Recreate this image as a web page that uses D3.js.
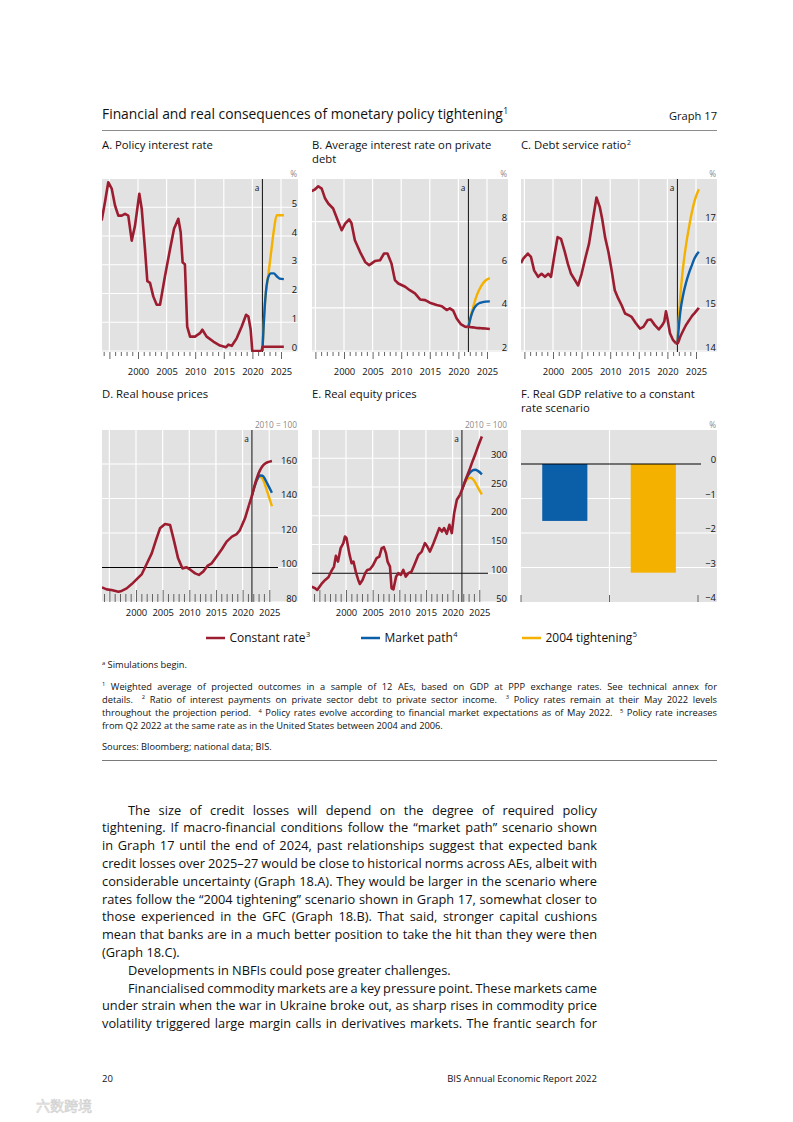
<!DOCTYPE html>
<html lang="en"><head><meta charset="utf-8"><title>Graph 17</title>
<script src="https://cdn.jsdelivr.net/npm/d3@7/dist/d3.min.js"></script>
<style>
html,body{margin:0;padding:0;background:#fff;}
svg{display:block;}
text{font-family:"Open Sans","Noto Sans",sans-serif;}
</style></head>
<body>
<svg id="page" width="793" height="1122" viewBox="0 0 793 1122"></svg>
<script>
// ================= DATA =================
const projYears = [2021.75, 2022.25, 2022.75, 2023.25, 2023.75, 2024.25, 2024.75, 2025.5];
const simStart = 2021.75;

// A. Policy interest rate (%)
const policyRateHist = [[1993.65,4.54],[1994.23,5.18],[1994.8,5.87],[1995.4,5.65],[1995.98,5.06],[1996.56,4.71],[1997.15,4.71],[1997.73,4.77],[1998.3,4.71],[1998.9,3.84],[1999.48,4.36],[2000.23,5.47],[2000.65,4.95],[2001.22,3.54],[2001.63,2.43],[2002.1,2.37],[2002.67,1.9],[2003.27,1.61],[2003.85,1.61],[2004.72,2.61],[2005.6,3.54],[2006.3,4.25],[2007.05,4.6],[2007.46,4.13],[2007.8,3.08],[2008.2,3.02],[2008.6,0.85],[2009.1,0.5],[2009.97,0.5],[2010.84,0.62],[2011.25,0.74],[2012.0,0.5],[2013.17,0.33],[2014.34,0.19],[2015.4,0.13],[2015.8,0.22],[2016.4,0.18],[2017.25,0.44],[2018.13,0.85],[2018.9,1.26],[2019.3,1.2],[2019.7,0.74],[2019.98,0.0],[2020.75,0.0],[2021.63,0.0]];
const policyRateConst  = [0.15, 0.15, 0.15, 0.15, 0.15, 0.15, 0.15, 0.15];
const policyRateMarket = [0, 1.8, 2.55, 2.7, 2.7, 2.6, 2.52, 2.5];
const policyRate2004   = [0, 1.8, 2.6, 3.4, 4.2, 4.72, 4.72, 4.72];

// B. Average interest rate on private debt (%)
const debtRateHist = [[1994.35,9.42],[1994.9,9.49],[1995.5,9.64],[1996.1,9.53],[1996.7,9.07],[1997.25,8.84],[1998.1,8.61],[1999.0,7.99],[1999.6,7.6],[2000.2,7.91],[2000.9,8.1],[2001.3,7.94],[2001.9,7.14],[2002.8,6.6],[2003.7,6.13],[2004.4,5.98],[2005.4,6.17],[2006.3,6.21],[2007.0,6.52],[2007.6,6.52],[2008.3,6.06],[2008.9,5.29],[2009.5,5.13],[2010.7,4.98],[2011.5,4.82],[2012.4,4.67],[2013.3,4.39],[2014.2,4.36],[2015.0,4.24],[2016.2,4.13],[2017.1,4.08],[2017.95,3.9],[2018.5,3.98],[2019.1,3.87],[2019.7,3.51],[2020.4,3.25],[2021.15,3.13],[2021.55,3.12]];
const debtRateConst  = [3.12, 3.10, 3.09, 3.07, 3.06, 3.05, 3.04, 3.02];
const debtRateMarket = [3.12, 3.65, 3.98, 4.15, 4.23, 4.27, 4.29, 4.30];
const debtRate2004   = [3.12, 3.70, 4.20, 4.60, 4.90, 5.12, 5.27, 5.38];

// C. Debt service ratio (%)
const dsrHist = [[1994.4,16.04],[1994.8,16.14],[1995.6,16.26],[1996.15,16.18],[1996.7,15.87],[1997.4,15.72],[1998.0,15.79],[1998.6,15.72],[1999.2,15.79],[1999.65,15.72],[2000.2,16.18],[2000.8,16.64],[2001.4,16.6],[2002.0,16.33],[2002.6,16.02],[2003.15,15.79],[2003.85,15.64],[2004.4,15.52],[2005.0,15.79],[2005.7,16.18],[2006.3,16.49],[2006.9,16.99],[2007.6,17.56],[2008.2,17.33],[2008.6,17.06],[2009.1,16.64],[2009.7,16.29],[2010.25,15.87],[2010.8,15.41],[2011.4,15.22],[2012.0,15.06],[2012.6,14.87],[2013.2,14.83],[2013.75,14.79],[2014.45,14.65],[2015.2,14.52],[2015.8,14.56],[2016.55,14.72],[2017.1,14.73],[2017.8,14.6],[2018.5,14.5],[2019.1,14.6],[2019.45,14.68],[2019.75,14.92],[2020.05,14.72],[2020.45,14.41],[2021.0,14.25],[2021.5,14.18]];
const dsrConst  = [14.17, 14.33, 14.47, 14.60, 14.70, 14.80, 14.88, 15.00];
const dsrMarket = [14.17, 14.90, 15.30, 15.58, 15.80, 15.98, 16.15, 16.30];
const dsr2004   = [14.17, 15.25, 15.95, 16.45, 16.85, 17.20, 17.48, 17.75];

// D. Real house prices (2010 = 100)
const houseHist = [[1993.6,88.5],[1994.5,87.3],[1995.4,87.0],[1996.7,86.0],[1997.3,86.4],[1998.25,87.9],[1999.2,90.4],[2000.1,93.1],[2001.1,96.2],[2002.0,102.0],[2002.95,108.2],[2003.75,115.9],[2004.5,122.7],[2005.45,125.2],[2006.4,124.6],[2007.1,115.9],[2007.9,105.3],[2008.7,99.5],[2009.5,100.1],[2010.25,98.6],[2011.1,96.6],[2011.8,95.7],[2012.6,97.6],[2013.4,100.9],[2014.2,102.4],[2015.1,106.3],[2016.1,110.6],[2017.0,115.0],[2018.0,117.9],[2018.9,119.4],[2019.5,121.7],[2020.45,128.5],[2021.2,136.2]];
const houseConst  = [141.7, 147.5, 152.5, 156.3, 158.8, 160.3, 161.1, 161.8];
const houseMarket = [141.7, 147.0, 151.2, 153.3, 153.2, 151.0, 147.9, 143.3];
const house2004   = [141.7, 147.0, 151.0, 152.6, 151.4, 147.5, 142.8, 135.5];

// E. Real equity prices (2010 = 100)
const equityHist = [[1993.56,76.7],[1994.2,73.9],[1994.6,70.9],[1995.4,81.4],[1996.1,88.4],[1996.7,93.1],[1997.3,104.6],[1997.75,111.6],[1998.1,130.2],[1998.5,120.3],[1999.0,143.7],[1999.5,152.4],[1999.8,163.9],[2000.1,161.1],[2000.6,135],[2001.05,117.5],[2001.4,120.3],[2001.9,100.1],[2002.3,88.4],[2002.6,81.4],[2003.1,88.4],[2003.6,100.1],[2004.0,105.8],[2004.5,107],[2005.1,114.5],[2005.75,126.2],[2006.25,129],[2006.7,143.7],[2007.1,145.4],[2007.5,135],[2007.8,120.3],[2008.25,111.6],[2008.55,73.9],[2008.9,72.1],[2009.4,94.1],[2009.8,100.1],[2010.3,97.1],[2010.75,105.8],[2011.2,94.1],[2011.7,100.1],[2012.3,102.9],[2012.95,117.5],[2013.6,132],[2014.2,137.7],[2014.8,152.4],[2015.25,146.5],[2015.75,137.7],[2016.3,149.4],[2016.9,163.9],[2017.5,178.5],[2018.0,172.6],[2018.4,178.5],[2018.9,168.6],[2019.4,184.3],[2019.85,169.8],[2020.3,204.7],[2020.8,227.9],[2021.4,236.6]];
const equityConst  = [245, 257.5, 270, 282, 295, 307, 320, 338];
const equityMarket = [245, 258, 268, 275, 279, 280, 278, 272];
const equity2004   = [245, 256, 263, 266, 264, 258, 249, 237];

// F. Real GDP relative to a constant rate scenario (%)
const gdpScenarios = ['Market path', '2004 tightening'];
const gdpDeviation = [-1.65, -3.15];

// Axis ticks
const ticksA = [0, 1, 2, 3, 4, 5];
const ticksB = [2, 4, 6, 8];
const ticksC = [14, 15, 16, 17];
const ticksD = [80, 100, 120, 140, 160];
const ticksE = [50, 100, 150, 200, 250, 300];
const ticksF = [0, -1, -2, -3, -4];
const yearTicks = d3.range(1994, 2026);
const majorYears = [1995, 2000, 2005, 2010, 2015, 2020, 2025];
const labelledYears = [2000, 2005, 2010, 2015, 2020, 2025];
const legendNames = ['Constant rate', 'Market path', '2004 tightening'];

// ================= STYLE =================
const BG = '#e2e2e2', RED = '#9c1c30', BLUE = '#0b5ea8', YELLOW = '#f5b100';
const GREY_TXT = '#8a8a8a', TICK = '#555';
const FONT = '"Open Sans","Noto Sans",sans-serif';
const intFmt = d3.format('d');
const svg = d3.select('#page');
svg.append('rect').attr('width', 793).attr('height', 1122).attr('fill', '#fff');

function measure(str, size) {
  const t = svg.append('text').attr('font-size', size).style('font-family', FONT).text(str);
  const w = t.node().getComputedTextLength(); t.remove(); return w;
}
function fit(str, target) { return 100 * target / measure(str, 100); }

const sTitle = fit('Financial and real consequences of monetary policy tightening', 401);
const sGraph = fit('Graph 17', 48);
const sPanel = fit('A. Policy interest rate', 111);
const sTick = fit('2000', 21.5);
const sUnit = sTick * 0.88;
const sLegend = fit('Constant rate', 76);
const sNote = fit('Sources: Bloomberg; national data; BIS.', 170);
const sBody = fit('Developments in NBFIs could pose greater challenges.', 323);
const sFooter = fit('BIS Annual Economic Report 2022', 150);

function rich(parent, x, y, parts, size, opts = {}) {
  const t = parent.append('text').attr('x', x).attr('y', y).attr('font-size', size)
    .attr('text-anchor', opts.anchor || 'start').attr('fill', opts.fill || '#111');
  let shift = 0;
  parts.forEach(p => {
    if (typeof p === 'string') {
      const ts = t.append('tspan').text(p);
      if (shift) { ts.attr('dy', shift); shift = 0; }
    } else {
      const up = size * 0.36;
      t.append('tspan').attr('font-size', size * 0.62).attr('dy', -up).attr('dx', p.dx || 0).text(p.sup);
      shift = up;
    }
  });
  return t;
}
function justify(t, width) {
  const node = t.node();
  const w0 = node.getComputedTextLength();
  const n = (node.textContent.match(/ /g) || []).length;
  if (!n) return;
  const ws = (width - w0) / n;
  t.style('word-spacing', ws.toFixed(3) + 'px');
  const w1 = node.getComputedTextLength();
  if (Math.abs(w1 - w0) < 0.3 && Math.abs(width - w0) > 1) {
    t.style('word-spacing', null).attr('textLength', width).attr('lengthAdjust', 'spacing');
  }
}

// ================= HEADER =================
rich(svg, 102, 119, ['Financial and real consequences of monetary policy tightening', {sup: '1', dx: 0.5}], sTitle);
rich(svg, 717, 120, ['Graph 17'], sGraph, {anchor: 'end'});
svg.append('line').attr('x1', 102).attr('x2', 717).attr('y1', 130.5).attr('y2', 130.5).attr('stroke', '#8c8c8c').attr('stroke-width', 1);

// ================= LINE PANELS =================
const linePanels = [
  {key: 'A', title: [['A. Policy interest rate']], L: 102, top: 179, bottom: 352, yTop: 178.5, yBot: 351, x2000: 36, ppy: 5.72, domain: [0, 6], ticks: ticksA, unit: '%', inside: false,
   hist: policyRateHist, cons: policyRateConst, mkt: policyRateMarket, t04: policyRate2004},
  {key: 'B', title: [['B. Average interest rate on private'], ['debt']], L: 312, top: 179, bottom: 352, yTop: 178.5, yBot: 351, x2000: 32, ppy: 5.72, domain: [2, 10], ticks: ticksB, unit: '%', inside: false,
   hist: debtRateHist, cons: debtRateConst, mkt: debtRateMarket, t04: debtRate2004},
  {key: 'C', title: [['C. Debt service ratio', {sup: '2', dx: 0.5}]], L: 521, top: 179, bottom: 352, yTop: 178.5, yBot: 351, x2000: 32, ppy: 5.72, domain: [14, 18], ticks: ticksC, unit: '%', inside: false,
   hist: dsrHist, cons: dsrConst, mkt: dsrMarket, t04: dsr2004},
  {key: 'D', title: [['D. Real house prices']], L: 102, top: 430, bottom: 602, yTop: 429.5, yBot: 602, x2000: 34, ppy: 5.33, domain: [80, 180], ticks: ticksD, unit: '2010 = 100', inside: true, ref: 100,
   hist: houseHist, cons: houseConst, mkt: houseMarket, t04: house2004},
  {key: 'E', title: [['E. Real equity prices']], L: 312, top: 430, bottom: 602, yTop: 429.5, yBot: 602, x2000: 34, ppy: 5.33, domain: [50, 350], ticks: ticksE, unit: '2010 = 100', inside: true, ref: 100,
   hist: equityHist, cons: equityConst, mkt: equityMarket, t04: equity2004}
];
const PW = 196;

linePanels.forEach(cfg => {
  const g = svg.append('g');
  const L = cfg.L, R = L + PW;
  const x = d3.scaleLinear().domain([2000, 2025]).range([L + cfg.x2000, L + cfg.x2000 + 25 * cfg.ppy]);
  const y = d3.scaleLinear().domain(cfg.domain).range([cfg.yBot, cfg.yTop]);
  const inX = v => x(v) >= L - 0.01 && x(v) <= R - 8;

  const titleBase = cfg.top < 300 ? 149 : 397.5;
  cfg.title.forEach((parts, i) => rich(svg, L, titleBase + i * 14, parts, sPanel));
  g.append('text').attr('x', R - 1).attr('y', cfg.top - 2.5).attr('text-anchor', 'end')
    .attr('font-size', sUnit).attr('fill', GREY_TXT).text(cfg.unit);

  g.append('rect').attr('x', L).attr('y', cfg.top).attr('width', PW).attr('height', cfg.bottom - cfg.top).attr('fill', BG);

  g.selectAll('line.vg').data(majorYears.filter(inX)).join('line').attr('class', 'vg')
    .attr('x1', d => x(d)).attr('x2', d => x(d)).attr('y1', cfg.top).attr('y2', cfg.bottom)
    .attr('stroke', '#fff').attr('stroke-width', 1.2);
  g.selectAll('line.hg').data(cfg.ticks.concat([cfg.domain[1]])).join('line').attr('class', 'hg')
    .attr('x1', L).attr('x2', R).attr('y1', d => y(d)).attr('y2', d => y(d))
    .attr('stroke', '#fff').attr('stroke-width', 1.2);
  if (cfg.ref !== undefined) {
    g.append('line').attr('x1', L).attr('x2', L + 176).attr('y1', y(cfg.ref)).attr('y2', y(cfg.ref))
      .attr('stroke', '#000').attr('stroke-width', 1);
  }

  const minor = yearTicks.filter(v => inX(v) && !majorYears.includes(v));
  const major = majorYears.filter(inX);
  const minorAxis = d3.axisBottom(x).tickValues(minor).tickFormat('').tickSize(cfg.inside ? -8 : 4);
  const majorAxis = d3.axisBottom(x).tickValues(major).tickFormat(d => labelledYears.includes(d) ? d : '')
    .tickSize(cfg.inside ? -12 : 7).tickPadding(cfg.inside ? 7 : 9.5);
  [minorAxis, majorAxis].forEach(ax => {
    const a = g.append('g').attr('transform', `translate(0,${cfg.bottom})`).call(ax);
    a.select('.domain').remove();
    a.selectAll('line').attr('stroke', TICK).attr('stroke-width', 0.9);
    a.selectAll('text').attr('font-size', sTick).attr('fill', '#111').style('font-family', FONT);
  });

  const ya = g.append('g').attr('transform', `translate(${R - 1},0)`)
    .call(d3.axisLeft(y).tickValues(cfg.ticks).tickFormat(intFmt).tickSize(0).tickPadding(0));
  ya.select('.domain').remove();
  ya.selectAll('text').attr('font-size', sTick).attr('fill', '#111').attr('dy', -1).style('font-family', FONT);

  const ax = x(simStart);
  g.append('line').attr('x1', ax).attr('x2', ax).attr('y1', cfg.top).attr('y2', cfg.bottom).attr('stroke', '#111').attr('stroke-width', 1);
  g.append('text').attr('x', ax - 3).attr('y', cfg.top + 12).attr('text-anchor', 'end').attr('font-size', sUnit).attr('fill', '#111').text('a');

  const clipId = 'clip' + cfg.key;
  svg.append('clipPath').attr('id', clipId).append('rect').attr('x', L).attr('y', cfg.top - 2).attr('width', PW).attr('height', cfg.bottom - cfg.top + 2);
  const lineG = g.append('g').attr('clip-path', `url(#${clipId})`);
  const straight = d3.line().x(d => x(d[0])).y(d => y(d[1]));
  const smooth = d3.line().x(d => x(d[0])).y(d => y(d[1])).curve(d3.curveMonotoneX);
  const proj = vals => projYears.map((yr, i) => [yr, vals[i]]);
  lineG.append('path').attr('d', smooth(proj(cfg.t04))).attr('fill', 'none').attr('stroke', YELLOW).attr('stroke-width', 2.4).attr('stroke-linejoin', 'round');
  lineG.append('path').attr('d', smooth(proj(cfg.mkt))).attr('fill', 'none').attr('stroke', BLUE).attr('stroke-width', 2.4).attr('stroke-linejoin', 'round');
  lineG.append('path').attr('d', straight(cfg.hist)).attr('fill', 'none').attr('stroke', RED).attr('stroke-width', 2.6).attr('stroke-linejoin', 'round');
  lineG.append('path').attr('d', smooth([cfg.hist[cfg.hist.length - 1]].concat(proj(cfg.cons)))).attr('fill', 'none').attr('stroke', RED).attr('stroke-width', 2.6).attr('stroke-linejoin', 'round');
});

// ================= PANEL F (bars) =================
(function () {
  const L = 521, R = L + PW, top = 430, bottom = 602;
  const g = svg.append('g');
  rich(svg, L, 397.5, ['F. Real GDP relative to a constant'], sPanel);
  rich(svg, L, 411.5, ['rate scenario'], sPanel);
  g.append('text').attr('x', R - 1).attr('y', top - 2.5).attr('text-anchor', 'end').attr('font-size', sUnit).attr('fill', GREY_TXT).text('%');
  g.append('rect').attr('x', L).attr('y', top).attr('width', PW).attr('height', bottom - top).attr('fill', BG);
  const x = d3.scaleBand().domain(gdpScenarios).range([L, L + 177]).padding(0);
  const y = d3.scaleLinear().domain([-4, 1]).range([bottom, 429.5]);
  const bw = x.bandwidth();
  g.append('line').attr('x1', x(gdpScenarios[1])).attr('x2', x(gdpScenarios[1])).attr('y1', top).attr('y2', bottom).attr('stroke', '#fff').attr('stroke-width', 1.2);
  g.selectAll('line.hg').data(ticksF.filter(v => v < 0 && v > -4).concat([1])).join('line').attr('class', 'hg')
    .attr('x1', L).attr('x2', R).attr('y1', d => y(d)).attr('y2', d => y(d)).attr('stroke', '#fff').attr('stroke-width', 1.2);
  const colors = [BLUE, YELLOW];
  g.selectAll('rect.bar').data(gdpDeviation).join('rect').attr('class', 'bar')
    .attr('x', (d, i) => x(gdpScenarios[i]) + bw * 0.24).attr('width', bw * 0.51)
    .attr('y', y(0)).attr('height', d => y(d) - y(0)).attr('fill', (d, i) => colors[i]);
  g.append('line').attr('x1', L).attr('x2', L + 180).attr('y1', y(0)).attr('y2', y(0)).attr('stroke', '#000').attr('stroke-width', 1);
  const edges = gdpScenarios.map(c => x(c)).concat([x(gdpScenarios[1]) + bw]);
  g.selectAll('line.tk').data(edges).join('line').attr('class', 'tk')
    .attr('x1', d => d).attr('x2', d => d).attr('y1', bottom).attr('y2', bottom - 7).attr('stroke', TICK).attr('stroke-width', 0.9);
  const ya = g.append('g').attr('transform', `translate(${R - 1},0)`)
    .call(d3.axisLeft(y).tickValues(ticksF).tickFormat(intFmt).tickSize(0).tickPadding(0));
  ya.select('.domain').remove();
  ya.selectAll('text').attr('font-size', sTick).attr('fill', '#111').attr('dy', -1.5).style('font-family', FONT);
})();

// ================= LEGEND =================
const legendColors = [RED, BLUE, YELLOW];
const legendSup = ['3', '4', '5'];
const legendX = [206, 361, 522];
const lg = svg.append('g');
legendNames.forEach((name, i) => {
  lg.append('line').attr('x1', legendX[i]).attr('x2', legendX[i] + 19).attr('y1', 638).attr('y2', 638)
    .attr('stroke', legendColors[i]).attr('stroke-width', 2.5);
  rich(lg, legendX[i] + 23.5, 641.5, [name, {sup: legendSup[i], dx: 0.5}], sLegend);
});

// ================= NOTES =================
rich(svg, 102, 668, [{sup: 'a'}, ' Simulations begin.'], sNote);
const noteLines = [
  {parts: [{sup: '1'}, ' Weighted average of projected outcomes in a sample of 12 AEs, based on GDP at PPP exchange rates. See technical annex for'], just: true},
  {parts: ['details. ', {sup: '2', dx: 4}, ' Ratio of interest payments on private sector debt to private sector income. ', {sup: '3', dx: 4}, ' Policy rates remain at their May 2022 levels'], just: true, dx: 8},
  {parts: ['throughout the projection period. ', {sup: '4', dx: 4}, ' Policy rates evolve according to financial market expectations as of May 2022. ', {sup: '5', dx: 4}, ' Policy rate increases'], just: true, dx: 8},
  {parts: ['from Q2 2022 at the same rate as in the United States between 2004 and 2006.'], just: false}
];
noteLines.forEach((ln, i) => {
  const t = rich(svg, 102, 689.5 + i * 13.2, ln.parts, sNote);
  if (ln.just) justify(t, 615 - (ln.dx || 0));
});
rich(svg, 102, 750, ['Sources: Bloomberg; national data; BIS.'], sNote);
svg.append('line').attr('x1', 102).attr('x2', 717).attr('y1', 760.5).attr('y2', 760.5).attr('stroke', '#7a7a7a').attr('stroke-width', 1);

// ================= BODY TEXT =================
const bodyLines = [
  {t: 'The size of credit losses will depend on the degree of required policy', ind: true, j: true},
  {t: 'tightening. If macro-financial conditions follow the “market path” scenario shown', j: true},
  {t: 'in Graph 17 until the end of 2024, past relationships suggest that expected bank', j: true},
  {t: 'credit losses over 2025–27 would be close to historical norms across AEs, albeit with', j: true},
  {t: 'considerable uncertainty (Graph 18.A). They would be larger in the scenario where', j: true},
  {t: 'rates follow the “2004 tightening” scenario shown in Graph 17, somewhat closer to', j: true},
  {t: 'those experienced in the GFC (Graph 18.B). That said, stronger capital cushions', j: true},
  {t: 'mean that banks are in a much better position to take the hit than they were then', j: true},
  {t: '(Graph 18.C).', j: false},
  {t: 'Developments in NBFIs could pose greater challenges.', ind: true, j: false},
  {t: 'Financialised commodity markets are a key pressure point. These markets came', ind: true, j: true},
  {t: 'under strain when the war in Ukraine broke out, as sharp rises in commodity price', j: true},
  {t: 'volatility triggered large margin calls in derivatives markets. The frantic search for', j: true}
];
bodyLines.forEach((ln, i) => {
  const x0 = ln.ind ? 128 : 102;
  const t = rich(svg, x0, 814.5 + i * 17.8, [ln.t], sBody, {fill: '#111'});
  if (ln.j) justify(t, 597 - x0);
});

// ================= FOOTER =================
rich(svg, 102, 1082, ['20'], sFooter);
rich(svg, 597, 1082, ['BIS Annual Economic Report 2022'], sFooter, {anchor: 'end'});
svg.append('text').attr('x', 36).attr('y', 1111).attr('font-size', 14)
  .style('font-family', '"Noto Sans CJK SC",sans-serif').attr('fill', '#f4f4f4').attr('stroke', '#cfcfcf').attr('stroke-width', 0.6)
  .text('六数跨境');
</script>
</body></html>
